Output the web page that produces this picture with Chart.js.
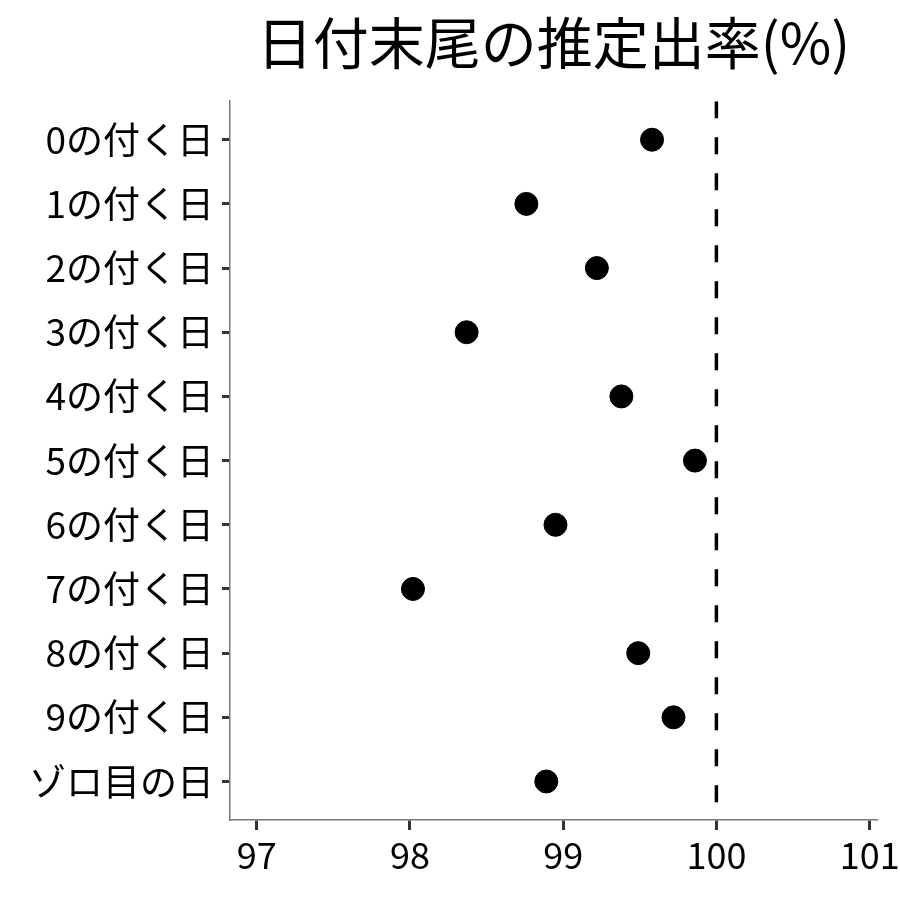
<!DOCTYPE html>
<html>
<head>
<meta charset="utf-8">
<script src="https://cdn.jsdelivr.net/npm/chart.js@4"></script>
<style>
html,body{margin:0;padding:0;background:#fff;}
#wrap{width:900px;height:900px;}
</style>
</head>
<body>
<div id="wrap"><canvas id="c" width="900" height="900"></canvas></div>
<script>
const categories = ["0の付く日","1の付く日","2の付く日","3の付く日","4の付く日","5の付く日","6の付く日","7の付く日","8の付く日","9の付く日","ゾロ目の日"];
const rates = [99.58, 98.76, 99.22, 98.37, 99.38, 99.86, 98.95, 98.02, 99.49, 99.72, 98.89];
const referenceLine = [100];
const xTicks = [97, 98, 99, 100, 101];
const titleText = "日付末尾の推定出率(%)";

const FONT = "'Noto Sans CJK JP', 'Noto Sans', sans-serif";

const points = rates.map((v, i) => ({x: v, y: i}));
const refPts = [{x: referenceLine[0], y: -0.6}, {x: referenceLine[0], y: categories.length - 0.4}];

new Chart(document.getElementById('c'), {
  type: 'scatter',
  data: {
    datasets: [
      {
        type: 'line',
        data: refPts,
        borderColor: '#000',
        borderWidth: 3.5,
        borderDash: [17, 19],
        borderCapStyle: 'butt',
        pointRadius: 0,
        fill: false
      },
      {
        data: points,
        backgroundColor: '#000',
        borderColor: '#000',
        borderWidth: 1,
        pointRadius: 11.5,
        pointHoverRadius: 11.5
      }
    ]
  },
  options: {
    responsive: false,
    animation: false,
    events: [],
    layout: {padding: {left: 0, right: 23, top: 0, bottom: 0}},
    plugins: {
      legend: {display: false},
      tooltip: {enabled: false},
      title: {
        display: true,
        text: titleText,
        fullSize: false,
        color: '#000',
        font: {family: FONT, size: 56, weight: 'normal'},
        padding: {top: 9, bottom: 25}
      }
    },
    scales: {
      x: {
        type: 'linear',
        min: 96.826,
        max: 101.048,
        afterBuildTicks: (s) => { s.ticks = xTicks.map(v => ({value: v})); },
        afterFit: (s) => { s.height = 80; s.paddingLeft = 0; s.paddingRight = 0; },
        grid: {drawOnChartArea: false, drawTicks: true, tickLength: 10, tickWidth: 3, tickColor: '#333'},
        border: {display: true, color: '#777', width: 1.5},
        ticks: {
          color: '#000',
          font: {family: FONT, size: 36},
          padding: 4,
          maxRotation: 0,
          autoSkip: false
        }
      },
      y: {
        type: 'linear',
        reverse: true,
        min: -0.6,
        max: categories.length - 0.4,
        afterBuildTicks: (s) => { s.ticks = categories.map((c, i) => ({value: i})); },
        afterFit: (s) => { s.width = 230; },
        grid: {drawOnChartArea: false, drawTicks: true, tickLength: 8, tickWidth: 3, tickColor: '#333'},
        border: {display: true, color: '#777', width: 1.5},
        ticks: {
          color: '#000',
          font: {family: FONT, size: 37},
          padding: 8,
          autoSkip: false,
          callback: (v) => categories[v]
        }
      }
    }
  }
});
</script>
</body>
</html>
